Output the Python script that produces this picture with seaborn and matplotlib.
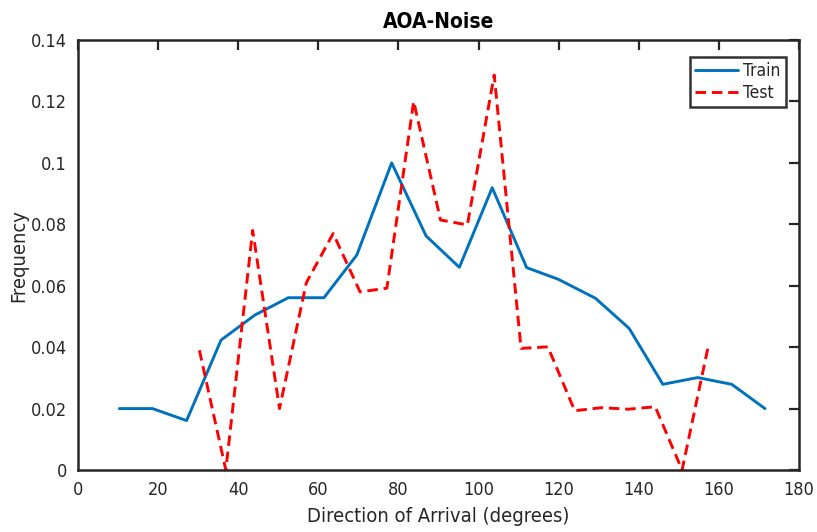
import matplotlib
matplotlib.use("Agg")
import matplotlib.pyplot as plt
from matplotlib import font_manager
import seaborn as sns
import pandas as pd

# Histogram bin centres (degrees) and normalised counts
train_angle = [10.3, 18.6, 27.1, 35.7, 44.2, 52.5, 61.4, 69.6, 78.3, 86.9,
               95.2, 103.4, 112.0, 119.9, 129.2, 137.6, 146.0, 154.7, 163.2, 171.5]
train_freq = [0.020, 0.020, 0.0161, 0.0423, 0.0505, 0.0561, 0.0561, 0.070, 0.100, 0.0762,
              0.066, 0.0919, 0.0659, 0.0621, 0.0559, 0.0461, 0.0279, 0.0301, 0.0279, 0.020]

test_angle = [30.3, 36.9, 43.6, 50.3, 57.0, 63.7, 70.4, 77.1, 83.8, 90.5,
              97.2, 103.9, 110.6, 117.3, 124.0, 130.7, 137.4, 144.1, 150.8, 157.5]
test_freq = [0.039, 0.0, 0.078, 0.020, 0.061, 0.077, 0.058, 0.0592, 0.120, 0.0814,
             0.0798, 0.1286, 0.0396, 0.0401, 0.0193, 0.0203, 0.0198, 0.0206, 0.0, 0.0413]

x_ticks = [0, 20, 40, 60, 80, 100, 120, 140, 160, 180]
y_ticks = [0, 0.02, 0.04, 0.06, 0.08, 0.1, 0.12, 0.14]
y_tick_labels = ["0", "0.02", "0.04", "0.06", "0.08", "0.1", "0.12", "0.14"]

train_df = pd.DataFrame({"angle": train_angle, "freq": train_freq})
test_df = pd.DataFrame({"angle": test_angle, "freq": test_freq})

sns.set_theme(style="white")

# prefer a narrow face when one is available
names = {f.name for f in font_manager.fontManager.ttflist}
if "Liberation Sans Narrow" in names:
    plt.rcParams["font.family"] = ["Liberation Sans Narrow", "DejaVu Sans"]
else:
    plt.rcParams["font.family"] = ["DejaVu Sans"]
    plt.rcParams["font.stretch"] = "condensed"

ink = "#262626"
fig = plt.figure(figsize=(8.17, 5.32), dpi=100)
ax = fig.add_axes([0.0955, 0.1165, 0.8825, 0.8083])

sns.lineplot(data=train_df, x="angle", y="freq", ax=ax, color="#0072BD",
             linewidth=2.1, label="Train")
sns.lineplot(data=test_df, x="angle", y="freq", ax=ax, color="#FF0000",
             linewidth=2.1, linestyle=(0, (3.6, 2.0)), label="Test")

ax.set_xlim(0, 180)
ax.set_ylim(0, 0.14)
ax.set_xticks(x_ticks)
ax.set_yticks(y_ticks)
ax.set_yticklabels(y_tick_labels)
ax.tick_params(direction="in", length=7, width=1.6, color=ink, labelcolor=ink,
               labelsize=13, top=True, right=True, pad=8)
for s in ax.spines.values():
    s.set_linewidth(1.8)
    s.set_color(ink)

ax.set_xlabel("Direction of Arrival (degrees)", fontsize=14.5, color=ink, labelpad=6)
ax.set_ylabel("Frequency", fontsize=14.5, color=ink, labelpad=2)
ax.set_title("AOA-Noise", fontsize=15, fontweight="bold", color="black", pad=9)

leg = ax.legend(loc="upper right", frameon=True, fancybox=False, fontsize=12.5,
                handlelength=2.5, handletextpad=0.3, borderpad=0.3,
                labelspacing=0.2, bbox_to_anchor=(0.982, 0.96), borderaxespad=0)
leg.get_frame().set_edgecolor("black")
leg.get_frame().set_linewidth(1.8)
for t in leg.get_texts():
    t.set_color(ink)

fig.savefig("out.png", dpi=100)
